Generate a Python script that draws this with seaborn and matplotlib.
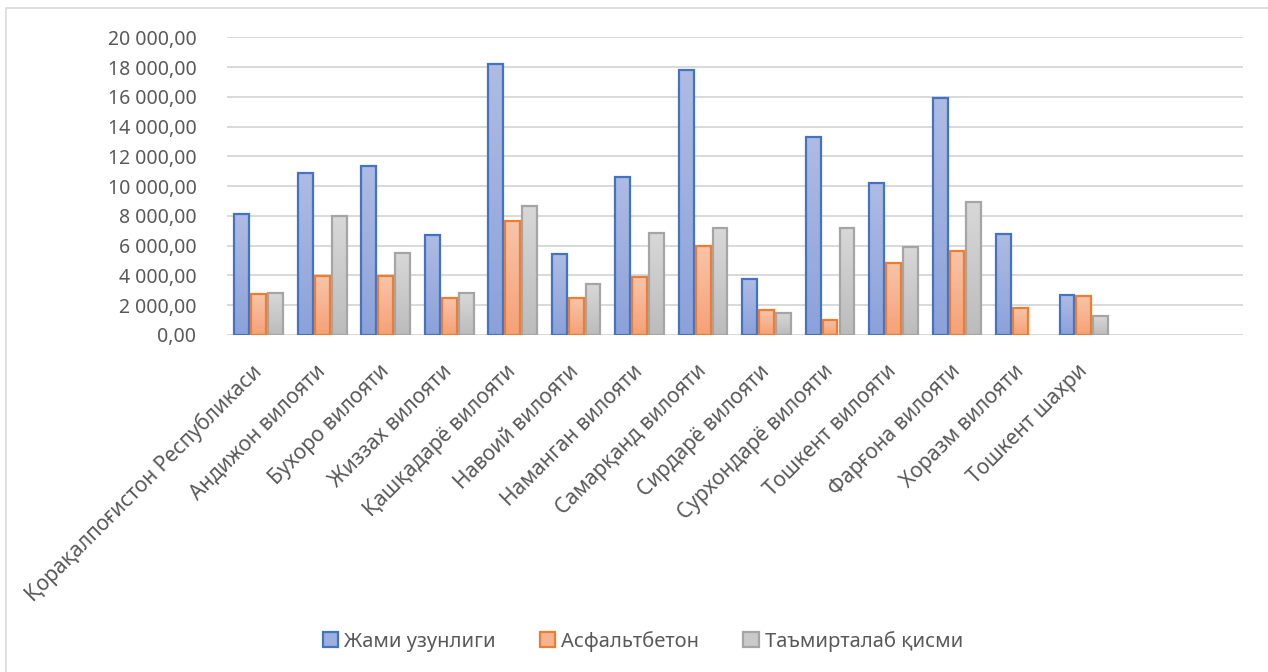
import numpy as np
import pandas as pd
import matplotlib
matplotlib.use("Agg")
import matplotlib.pyplot as plt
import seaborn as sns
from matplotlib.patches import Patch, Rectangle
from matplotlib.colors import LinearSegmentedColormap
from matplotlib.ticker import FuncFormatter

regions = ["Қорақалпоғистон Республикаси", "Андижон вилояти", "Бухоро вилояти",
           "Жиззах вилояти", "Қашқадарё вилояти", "Навоий вилояти", "Наманган вилояти",
           "Самарқанд вилояти", "Сирдарё вилояти", "Сурхондарё вилояти", "Тошкент вилояти",
           "Фарғона вилояти", "Хоразм вилояти", "Тошкент шахри"]
series = ["Жами узунлиги", "Асфальтбетон", "Таъмирталаб қисми"]
total_len = [8110, 10860, 11330, 6750, 18190, 5430, 10640, 17790, 3750, 13320, 10190, 15910, 6790, 2680]
asphalt = [2750, 3960, 3960, 2460, 7670, 2480, 3870, 5970, 1650, 1010, 4870, 5630, 1810, 2620]
repair = [2840, 7980, 5540, 2790, 8670, 3420, 6880, 7170, 1480, 7220, 5900, 8960, np.nan, 1270]

fill_top = ["#AEBCE3", "#F8C4A9", "#D8D8D8"]
fill_bot = ["#8BA2D9", "#F4A277", "#BCBCBC"]
edges = ["#4472C4", "#ED7D31", "#A5A5A5"]
mid = ["#9CAFDE", "#F6B390", "#CACACA"]

df = pd.DataFrame({
    "region": regions * 3,
    "series": np.repeat(series, len(regions)),
    "value": total_len + asphalt + repair,
})

sns.set_style("white")
plt.rcParams["font.family"] = ["Noto Sans", "DejaVu Sans"]

fig = plt.figure(figsize=(12.68, 6.72), dpi=100)
ax = fig.add_axes([0.179, 0.5015, 0.801, 0.4430])

sns.barplot(data=df, x="region", y="value", hue="series", order=regions,
            hue_order=series, palette=mid, width=0.8, gap=0.12,
            errorbar=None, legend=False, ax=ax)

# excel-like gradient fill + coloured outline per series
for k, cont in enumerate(ax.containers):
    cmap = LinearSegmentedColormap.from_list(f"g{k}", [fill_bot[k], fill_top[k]])
    grad = np.linspace(0, 1, 64).reshape(-1, 1)
    for bar in cont:
        h = bar.get_height()
        if not np.isfinite(h) or h <= 0:
            continue
        x0 = bar.get_x()
        w = bar.get_width()
        bar.set_edgecolor(edges[k])
        bar.set_linewidth(1.6)
        im = ax.imshow(grad, cmap=cmap, aspect="auto", origin="lower",
                       extent=(x0, x0 + w, 0, h), zorder=bar.get_zorder())
        im.set_clip_path(bar)
        bar.set_facecolor("none")
        bar.set_zorder(bar.get_zorder() + 0.1)

ax.set_xlim(-0.5, 15.5)
ax.set_ylim(0, 20000)
ax.set_yticks(np.arange(0, 20001, 2000))
ax.yaxis.set_major_formatter(FuncFormatter(
    lambda v, p: f"{v:,.2f}".replace(",", " ").replace(".", ",")))
ax.grid(axis="y", color="#D9D9D9", linewidth=1.4)
ax.set_axisbelow(True)
for s in ax.spines.values():
    s.set_visible(False)
ax.set_xlabel("")
ax.set_ylabel("")
ax.tick_params(axis="y", length=0, pad=22, labelsize=14, labelcolor="#595959")
ax.tick_params(axis="x", length=0, pad=24, labelsize=15, labelcolor="#595959")
for lab in ax.get_xticklabels():
    lab.set_rotation(45)
    lab.set_rotation_mode("anchor")
    lab.set_ha("right")
    lab.set_va("center")

handles = [Patch(facecolor=mid[i], edgecolor=edges[i], linewidth=1.6) for i in range(3)]
fig.legend(handles, series, loc="center", bbox_to_anchor=(0.507, 0.046), ncol=3,
           frameon=False, fontsize=14.5, labelcolor="#595959", handlelength=0.75,
           handleheight=0.75, handletextpad=0.3, columnspacing=2.2)

fig.patches.append(Rectangle((0.005, -0.05), 1.2, 1.038, transform=fig.transFigure,
                             fill=False, edgecolor="#D9D9D9", linewidth=1.2))

fig.savefig("out.png", dpi=100)
